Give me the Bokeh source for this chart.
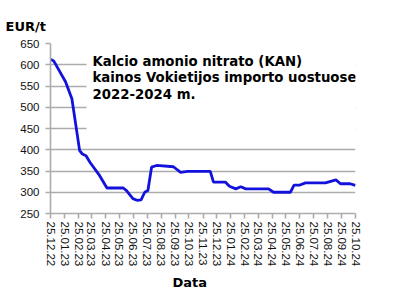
import pandas as pd
from bokeh.plotting import figure
from bokeh.models import FixedTicker, DatetimeTickFormatter, Range1d, BoxAnnotation, Label, Title
from bokeh.embed import file_html
from bokeh.resources import INLINE

# ---- data ----
dates = ["2022-12-25", "2023-01-01", "2023-01-27", "2023-02-10", "2023-02-27", "2023-03-05",
         "2023-03-13", "2023-03-22", "2023-04-12", "2023-04-28", "2023-06-03", "2023-06-10",
         "2023-06-24", "2023-07-03", "2023-07-12", "2023-07-20", "2023-07-27", "2023-08-04",
         "2023-08-15", "2023-09-21", "2023-10-07", "2023-10-22", "2023-12-11", "2023-12-18",
         "2024-01-13", "2024-01-22", "2024-02-05", "2024-02-16", "2024-02-27", "2024-04-17",
         "2024-04-28", "2024-06-04", "2024-06-12", "2024-06-25", "2024-07-07", "2024-08-20",
         "2024-09-12", "2024-09-22", "2024-10-13", "2024-10-25"]
prices = [613, 609, 560, 520, 398, 390,
          386, 370, 339, 310, 310, 304,
          285, 281, 282, 300, 304, 359,
          363, 360, 347, 349, 349, 324,
          324, 314, 308, 313, 308, 308,
          300, 300, 317, 317, 322, 322,
          329, 320, 320, 316]

tick_labels = ["25.12.22", "25.01.23", "25.02.23", "25.03.23", "25.04.23", "25.05.23",
               "25.06.23", "25.07.23", "25.08.23", "25.09.23", "25.10.23", "25.11.23",
               "25.12.23", "25.01.24", "25.02.24", "25.03.24", "25.04.24", "25.05.24",
               "25.06.24", "25.07.24", "25.08.24", "25.09.24", "25.10.24"]
y_ticks = [250, 300, 350, 400, 450, 500, 550, 600, 650]

title_lines = ["Kalcio amonio nitrato (KAN)",
               "kainos Vokietijos importo uostuose",
               "2022-2024 m."]
y_label = "EUR/t"
x_label = "Data"

# ---- build ----
x = pd.to_datetime(dates)
tick_dt = pd.to_datetime(tick_labels, format="%d.%m.%y")
tick_ms = [int(d.timestamp() * 1000) for d in tick_dt]
x0, x1 = tick_ms[0], tick_ms[-1]
frame_w, frame_h = 305, 170
ms_per_px = (x1 - x0) / frame_w
val_per_px = (y_ticks[-1] - y_ticks[0]) / frame_h

p = figure(width=409, height=301, x_axis_type="datetime",
           x_range=Range1d(x0, x1), y_range=Range1d(y_ticks[0], y_ticks[-1]),
           output_backend="svg", toolbar_location=None,
           min_border_left=50, min_border_right=54, min_border_top=43, min_border_bottom=88)
p.outline_line_color = None
p.background_fill_color = "white"
p.border_fill_color = "white"

grey = "#acacac"
p.xgrid.grid_line_color = None
p.ygrid.grid_line_color = grey
p.ygrid.grid_line_width = 1.6
p.ygrid.ticker = FixedTicker(ticks=y_ticks)

p.line(x, prices, line_color="#1212dc", line_width=2.8)

# white box that hides the grid behind the title
p.add_layout(BoxAnnotation(left=x0 + 36 * ms_per_px, right=x1,
                           bottom=y_ticks[-1] - 104 * val_per_px, top=y_ticks[-1],
                           fill_color="white", fill_alpha=1.0, line_color=None))

p.xaxis.ticker = FixedTicker(ticks=tick_ms)
fmt = "%d.%m.%y"
p.xaxis.formatter = DatetimeTickFormatter(microseconds=fmt, milliseconds=fmt, seconds=fmt,
                                          minsec=fmt, minutes=fmt, hourmin=fmt, hours=fmt,
                                          days=fmt, months=fmt, years=fmt)
p.xaxis.major_label_orientation = "vertical"
p.yaxis.ticker = FixedTicker(ticks=y_ticks)

for ax in (p.xaxis[0], p.yaxis[0]):
    ax.axis_line_color = grey
    ax.axis_line_width = 1.6
    ax.major_tick_line_color = grey
    ax.major_tick_line_width = 1.6
    ax.major_tick_out = 5
    ax.major_tick_in = 0
    ax.minor_tick_line_color = None
    ax.major_label_text_font = "Liberation Sans"
    ax.major_label_text_font_size = "11.5px"
    ax.major_label_text_color = "#111111"
    ax.major_label_standoff = 3
p.yaxis.major_label_standoff = 6

for i, line in enumerate(title_lines):
    p.add_layout(Label(x=92, y=53 + i * 16.8, x_units="canvas", y_units="canvas", text=line,
                       text_font="DejaVu Sans", text_font_style="bold", text_font_size="13.3px",
                       text_baseline="top", text_color="black"))

p.add_layout(Title(text=y_label, align="left", offset=-45, standoff=16, vertical_align="top",
                   text_font="DejaVu Sans", text_font_style="bold", text_font_size="13px",
                   text_color="black"), "above")
p.add_layout(Title(text=x_label, align="left", offset=122, standoff=7,
                   text_font="DejaVu Sans", text_font_style="bold", text_font_size="13px",
                   text_color="black"), "below")

open("out.html", "w").write(file_html(p, INLINE))
